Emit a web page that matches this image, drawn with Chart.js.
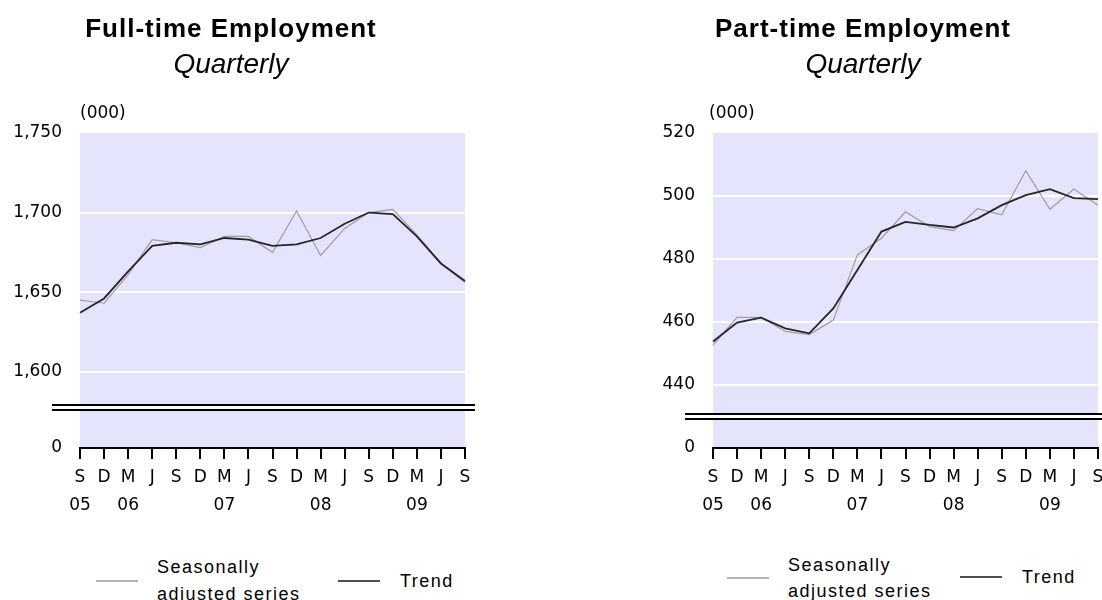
<!DOCTYPE html>
<html>
<head>
<meta charset="utf-8">
<script src="https://cdn.jsdelivr.net/npm/chart.js@4.4.1/dist/chart.umd.min.js"></script>
<style>
  body { margin: 0; background: #fff; }
  #wrap { position: relative; width: 1102px; height: 600px; overflow: hidden; font-family: 'Liberation Sans', Arial, sans-serif; color: #000; }
  canvas { position: absolute; top: 0; }
  .title { position: absolute; width: 400px; text-align: center; font-weight: bold; font-size: 26px; letter-spacing: 1px; line-height: 30px; top: 13px; }
  .sub { position: absolute; width: 400px; text-align: center; font-style: italic; font-size: 28px; line-height: 32px; top: 48px; }
  .unit { position: absolute; font-family: 'DejaVu Sans', sans-serif; font-size: 17px; line-height: 20px; top: 102px; }
  .leg { position: absolute; font-size: 18px; letter-spacing: 1.5px; white-space: nowrap; }
  .swatch { position: absolute; width: 42px; height: 2px; }
</style>
</head>
<body>
<div id="wrap">
  <canvas id="ftChart" width="551" height="540" style="left:0"></canvas>
  <canvas id="ptChart" width="551" height="540" style="left:551px"></canvas>

  <div class="title" style="left:31px">Full-time Employment</div>
  <div class="sub" style="left:31px">Quarterly</div>
  <div class="unit" style="left:80px">(000)</div>

  <div class="title" style="left:663px">Part-time Employment</div>
  <div class="sub" style="left:663px">Quarterly</div>
  <div class="unit" style="left:709px">(000)</div>

  <div class="swatch" style="left:96px; top:580px; background:#b4b4b4"></div>
  <div class="leg" style="left:157px; top:554px; line-height:27px">Seasonally<br>adjusted series</div>
  <div class="swatch" style="left:338px; top:580px; background:#505050"></div>
  <div class="leg" style="left:400px; top:571px; line-height:20px">Trend</div>

  <div class="swatch" style="left:727px; top:577px; background:#b4b4b4"></div>
  <div class="leg" style="left:788px; top:552px; line-height:26px">Seasonally<br>adjusted series</div>
  <div class="swatch" style="left:960px; top:576px; background:#505050"></div>
  <div class="leg" style="left:1022px; top:567px; line-height:20px">Trend</div>
</div>

<script>
// quarters Sep 2005 .. Sep 2009
const quarterMonths = ['S', 'D', 'M', 'J', 'S', 'D', 'M', 'J', 'S', 'D', 'M', 'J', 'S', 'D', 'M', 'J', 'S'];
const quarterYears = ['05', '', '06', '', '', '', '07', '', '', '', '08', '', '', '', '09', '', ''];

// full-time employment (000)
const ftSeasonal = [1645, 1643, 1661, 1683, 1681, 1678, 1685, 1685, 1675, 1701, 1673, 1690, 1700, 1702, 1686, 1668, 1656];
const ftTrend = [1637, 1646, 1663, 1679, 1681, 1680, 1684, 1683, 1679, 1680, 1684, 1693, 1700, 1699, 1685, 1668, 1657];
const ftTicks = [1600, 1650, 1700, 1750];
const ftFloor = 1552; // axis bottom, labelled 0 below the break
const ftBreak = 1577;

// part-time employment (000)
const ptSeasonal = [452.7, 461.5, 461.5, 457, 456, 460.6, 481.3, 486.6, 495, 490.3, 489, 496, 494, 508, 495.8, 502.2, 497.1];
const ptTrend = [453.8, 459.8, 461.4, 458, 456.4, 464.3, 476.5, 488.7, 491.8, 490.8, 490, 492.9, 497.1, 500.3, 502.2, 499.3, 499];
const ptTicks = [440, 460, 480, 500, 520];
const ptFloor = 420;
const ptBreak = 430;

const xLabels = quarterMonths.map((m, i) => quarterYears[i] ? [m, quarterYears[i]] : m);

Chart.defaults.font.family = "'DejaVu Sans', sans-serif";
Chart.defaults.color = '#000';

const plotBg = {
  id: 'plotBg',
  beforeDraw(chart) {
    const { ctx, chartArea: a } = chart;
    ctx.save();
    ctx.fillStyle = '#e4e4fc';
    ctx.fillRect(a.left, a.top, a.right - a.left, a.bottom - a.top);
    ctx.restore();
  }
};

// double line marking the cut in the value axis
const axisBreak = {
  id: 'axisBreak',
  afterDraw(chart, args, opts) {
    const { ctx, chartArea: a } = chart;
    const y = Math.round(chart.scales.y.getPixelForValue(opts.at));
    const x0 = a.left - 28, x1 = a.right + 10;
    ctx.save();
    ctx.fillStyle = '#fff';
    ctx.fillRect(x0, y - 3, x1 - x0, 5);
    ctx.strokeStyle = '#000';
    ctx.lineWidth = 2;
    ctx.beginPath();
    ctx.moveTo(x0, y - 3); ctx.lineTo(x1, y - 3);
    ctx.moveTo(x0, y + 2); ctx.lineTo(x1, y + 2);
    ctx.stroke();
    ctx.restore();
  }
};

function makeChart(id, seasonal, trend, ticks, floor, brk, axisWidth, padRight) {
  const top = ticks[ticks.length - 1];
  return new Chart(document.getElementById(id), {
    type: 'line',
    data: {
      labels: xLabels,
      datasets: [
        { label: 'Trend', data: trend, borderColor: '#262626', borderWidth: 1.8 },
        { label: 'Seasonally adjusted series', data: seasonal, borderColor: '#9e9e9e', borderWidth: 1.2 }
      ]
    },
    options: {
      responsive: false,
      animation: false,
      layout: { padding: { top: 133, right: padRight, bottom: 22, left: 0 } },
      elements: { point: { radius: 0 }, line: { tension: 0, fill: false } },
      plugins: {
        legend: { display: false },
        tooltip: { enabled: false },
        axisBreak: { at: brk }
      },
      scales: {
        x: {
          offset: false,
          grid: { drawOnChartArea: false, color: '#000', lineWidth: 2, tickLength: 11 },
          border: { color: '#000', width: 2 },
          ticks: { autoSkip: false, maxRotation: 0, padding: 5, font: { size: 17, lineHeight: 1.65 } },
          afterFit(s) { s.height = 70; s.paddingLeft = 0; s.paddingRight = 0; }
        },
        y: {
          min: floor,
          max: top,
          afterBuildTicks(s) { s.ticks = [floor, ...ticks].map(v => ({ value: v })); },
          grid: {
            drawTicks: false,
            lineWidth: 2,
            color: c => (c.tick && c.tick.value > floor && c.tick.value < top) ? '#fff' : 'rgba(0,0,0,0)'
          },
          border: { display: false },
          ticks: {
            padding: 18,
            font: { size: 17 },
            callback: v => v === floor ? '0' : v.toLocaleString('en-US')
          },
          afterFit(s) { s.width = axisWidth; }
        }
      }
    },
    plugins: [plotBg, axisBreak]
  });
}

makeChart('ftChart', ftSeasonal, ftTrend, ftTicks, ftFloor, ftBreak, 80, 86);
makeChart('ptChart', ptSeasonal, ptTrend, ptTicks, ptFloor, ptBreak, 162, 4);
</script>
</body>
</html>
